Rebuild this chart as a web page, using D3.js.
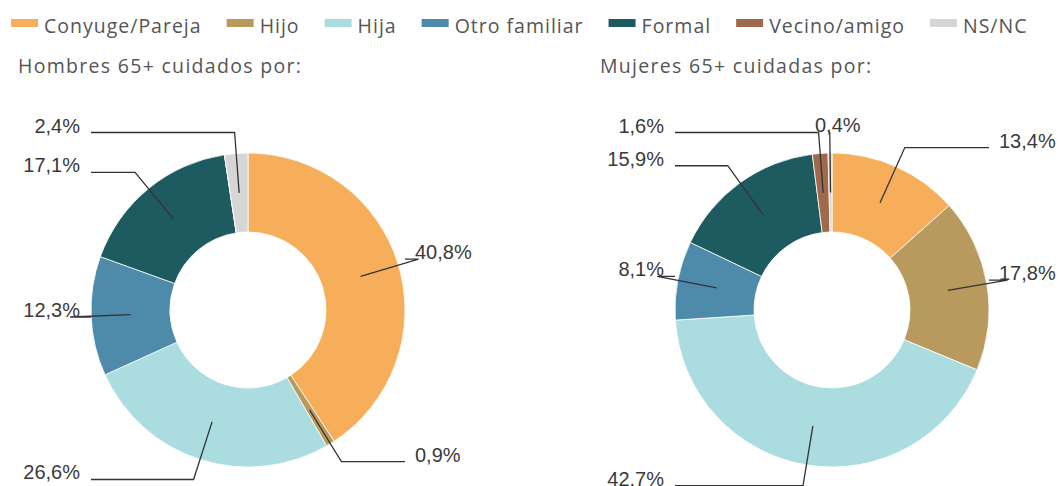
<!DOCTYPE html>
<html>
<head>
<meta charset="utf-8">
<script src="https://cdn.jsdelivr.net/npm/d3@7"></script>
<style>
  html, body { margin: 0; padding: 0; background: #fff; }
  svg { display: block; }
</style>
</head>
<body>
<svg id="chart" width="1059" height="486"></svg>
<script>
// Who cares for people aged 65+, split by sex
const categories = ["Conyuge/Pareja", "Hijo", "Hija", "Otro familiar", "Formal", "Vecino/amigo", "NS/NC"];
const categoryColors = ["#F7AE5A", "#B89A5E", "#AADCE0", "#4E8BAA", "#1D5B61", "#A0694C", "#D6D6D6"];

const hombresValues = [40.8, 0.9, 26.6, 12.3, 17.1, 0, 2.4];
const hombresLabels = ["40,8%", "0,9%", "26,6%", "12,3%", "17,1%", "", "2,4%"];

const mujeresValues = [13.4, 17.8, 42.7, 8.1, 15.9, 1.6, 0.4];
const mujeresLabels = ["13,4%", "17,8%", "42.7%", "8,1%", "15,9%", "1,6%", "0,4%"];

const panelTitles = ["Hombres 65+ cuidados por:", "Mujeres 65+ cuidadas por:"];

const svg = d3.select("#chart");

const color = d3.scaleOrdinal().domain(categories).range(categoryColors);

const uiFont = { family: "'Open Sans', sans-serif", size: 19.5, spacing: 1.0, fill: "#555" };

// ---- Legend ----
const legend = svg.append("g").attr("class", "legend");
let lx = 11;
categories.forEach(cat => {
  const g = legend.append("g");
  g.append("rect")
    .attr("x", lx).attr("y", 19)
    .attr("width", 27).attr("height", 8)
    .attr("fill", color(cat));
  const t = g.append("text")
    .attr("x", lx + 33).attr("y", 33)
    .attr("font-family", uiFont.family)
    .attr("font-size", uiFont.size)
    .attr("letter-spacing", uiFont.spacing)
    .attr("fill", uiFont.fill)
    .text(cat);
  lx = lx + 33 + t.node().getComputedTextLength() + 25;
});

// ---- Donuts ----
const outerR = 157, innerR = 78, elbowR = 178;

const pie = d3.pie().sort(null).value(d => d.value);
const arc = d3.arc().innerRadius(innerR).outerRadius(outerR);
const elbowArc = d3.arc().innerRadius(elbowR).outerRadius(elbowR);

function drawDonut(cx, cy, values, labels, title, titleX) {
  svg.append("text")
    .attr("x", titleX).attr("y", 73)
    .attr("font-family", uiFont.family)
    .attr("font-size", uiFont.size)
    .attr("letter-spacing", uiFont.spacing + 0.3)
    .attr("fill", uiFont.fill)
    .text(title);

  const data = categories.map((c, i) => ({ category: c, value: values[i], label: labels[i] }));
  const arcs = pie(data);

  const g = svg.append("g").attr("transform", `translate(${cx},${cy})`);

  g.selectAll("path.slice")
    .data(arcs)
    .join("path")
    .attr("class", "slice")
    .attr("d", arc)
    .attr("fill", d => color(d.data.category))
    .attr("stroke", "#fff")
    .attr("stroke-width", 0.8);

  // leader from mid-ring, radial elbow, then horizontal to the label column
  const items = arcs.filter(d => d.data.value > 0).map(d => {
    const mid = (d.startAngle + d.endAngle) / 2;
    return {
      d,
      start: arc.centroid(d),
      elbow: elbowArc.centroid(d),
      side: mid > Math.PI ? "left" : "right",
      inline: false
    };
  });

  // a label that would sit on top of a bigger one stays at its elbow
  ["left", "right"].forEach(side => {
    const placed = [];
    items.filter(it => it.side === side)
      .sort((a, b) => b.d.data.value - a.d.data.value)
      .forEach(it => {
        if (placed.some(p => Math.abs(p.elbow[1] - it.elbow[1]) < 16)) it.inline = true;
        else placed.push(it);
      });
  });

  const lines = g.append("g").attr("class", "leaders");
  const texts = g.append("g").attr("class", "labels");

  items.forEach(it => {
    const pts = [it.start, it.elbow];
    let tx, anchor;
    if (it.inline) {
      tx = it.elbow[0] + 8;
      anchor = "middle";
    } else if (it.side === "left") {
      pts.push([-outerR, it.elbow[1]]);
      tx = -outerR - 11;
      anchor = "end";
    } else {
      pts.push([outerR, it.elbow[1]]);
      tx = outerR + 10;
      anchor = "start";
    }
    lines.append("path")
      .attr("d", d3.line()(pts))
      .attr("fill", "none")
      .attr("stroke", "#333")
      .attr("stroke-width", 1.3);
    texts.append("text")
      .attr("x", tx)
      .attr("y", it.elbow[1])
      .attr("text-anchor", anchor)
      .attr("font-family", "'Liberation Sans', Arial, sans-serif")
      .attr("font-size", 20)
      .attr("fill", "#3a3a3a")
      .text(it.d.data.label);
  });
}

drawDonut(248, 310, hombresValues, hombresLabels, panelTitles[0], 18);
drawDonut(832, 310, mujeresValues, mujeresLabels, panelTitles[1], 600);
</script>
</body>
</html>
